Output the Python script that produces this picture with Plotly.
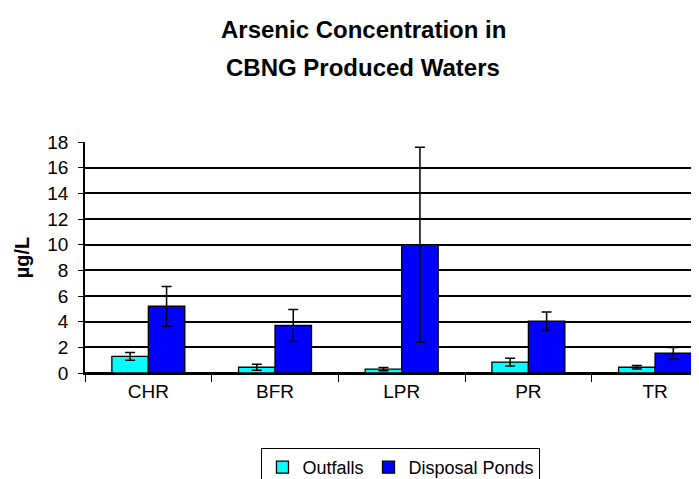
import plotly.graph_objects as go

categories = ["CHR", "BFR", "LPR", "PR", "TR"]
outfalls = [1.3, 0.45, 0.3, 0.85, 0.45]
outfalls_err = [0.3, 0.23, 0.12, 0.3, 0.14]
ponds = [5.2, 3.7, 10.0, 4.05, 1.55]
ponds_err = [1.55, 1.25, 7.6, 0.7, 0.43]
y_ticks = list(range(0, 19, 2))

FONT = "Liberation Sans, Arial, sans-serif"

fig = go.Figure()
fig.add_trace(go.Bar(
    name="Outfalls", x=categories, y=outfalls,
    marker=dict(color="#00FFFF", line=dict(color="black", width=1.3)),
    error_y=dict(type="data", array=outfalls_err, color="black", thickness=1.5, width=5),
))
fig.add_trace(go.Bar(
    name="Disposal Ponds", x=categories, y=ponds,
    marker=dict(color="#0000FF", line=dict(color="black", width=1.3)),
    error_y=dict(type="data", array=ponds_err, color="black", thickness=1.5, width=5),
))

fig.update_layout(
    width=699, height=479,
    margin=dict(l=77, r=0, t=134, b=113),
    paper_bgcolor="white", plot_bgcolor="white",
    barmode="group", bargap=0.424, bargroupgap=0,
    font=dict(family=FONT, color="black", size=19),
    showlegend=True,
    legend=dict(orientation="h", x=0.508, xanchor="center", y=-0.323, yanchor="top",
                bordercolor="black", borderwidth=1, bgcolor="white",
                font=dict(size=18, family=FONT), itemwidth=30, tracegroupgap=0),
    annotations=[
        dict(text="<b>Arsenic Concentration in</b>", xref="paper", yref="paper",
             x=0.447, y=1.485, xanchor="center", yanchor="middle", showarrow=False,
             font=dict(size=24, family=FONT)),
        dict(text="<b>CBNG Produced Waters</b>", xref="paper", yref="paper",
             x=0.447, y=1.323, xanchor="center", yanchor="middle", showarrow=False,
             font=dict(size=24, family=FONT)),
    ],
)

fig.update_xaxes(
    type="category", range=[-0.5, 4.41],
    showline=True, linecolor="black", linewidth=1.5,
    tickson="boundaries", ticks="outside", ticklen=7, tickcolor="black", tickwidth=1.3,
    showgrid=False, tickfont=dict(size=19),
)
fig.update_yaxes(
    range=[0, 18], tickvals=y_ticks, ticktext=[str(v) for v in y_ticks],
    showline=True, linecolor="black", linewidth=1.5,
    ticks="outside", ticklen=5, tickcolor="black", tickwidth=1.3,
    ticklabelstandoff=6,
    showgrid=True, gridcolor="black", gridwidth=1.5,
    zeroline=True, zerolinecolor="black", zerolinewidth=1.5,
    tickfont=dict(size=19),
    title=dict(text="<b>µg/L</b>", font=dict(size=20), standoff=12),
)

fig.write_html("out.html")
